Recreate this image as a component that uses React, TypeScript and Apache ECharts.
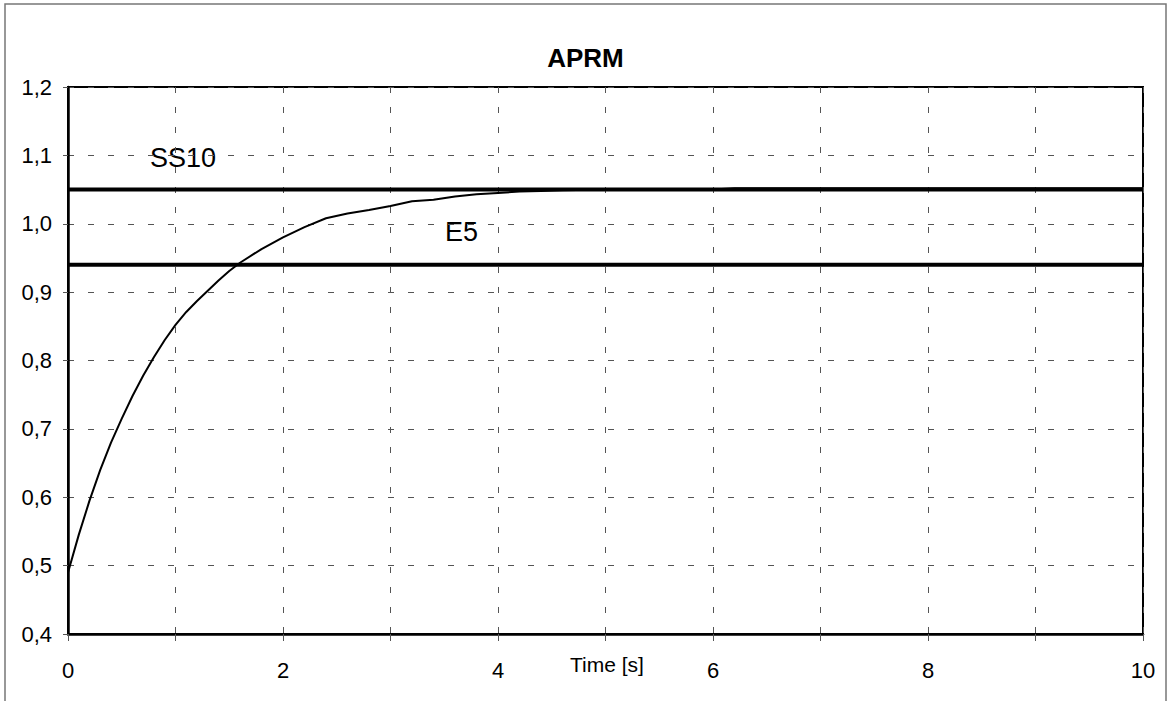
import React, { useEffect, useRef } from "react";
import * as echarts from "echarts";

const timeValues = [0, 0.1, 0.2, 0.3, 0.4, 0.5, 0.6, 0.7, 0.8, 0.9, 1.0, 1.1, 1.2, 1.3, 1.4, 1.5, 1.6, 1.8, 2.0, 2.2, 2.4, 2.6, 2.8, 3.0, 3.2, 3.4, 3.6, 3.8, 4.0, 4.2, 4.4, 4.6, 5.0, 6.0, 6.2, 10];
const aprmValues = [0.49, 0.545, 0.595, 0.64, 0.68, 0.715, 0.748, 0.778, 0.805, 0.83, 0.852, 0.871, 0.887, 0.902, 0.917, 0.931, 0.943, 0.963, 0.98, 0.995, 1.008, 1.015, 1.02, 1.026, 1.033, 1.035, 1.04, 1.043, 1.045, 1.047, 1.048, 1.049, 1.05, 1.05, 1.052, 1.052];
const ss10Level = 1.05;
const e5Level = 0.94;
const xRange = [0, 10];
const yRange = [0.4, 1.2];
const titleText = "APRM";
const xAxisName = "Time [s]";
const lineLabels = ["SS10", "E5"];

const FONT = "'Liberation Sans', Arial, sans-serif";

export default function App() {
  const ref = useRef<HTMLDivElement>(null);
  useEffect(() => {
    document.body.style.margin = "0";
    if (!ref.current) return;
    const chart = echarts.init(ref.current, undefined, { renderer: "svg" });
    const curve = timeValues.map((t, i) => [t, aprmValues[i]]);
    chart.setOption({
      animation: false,
      backgroundColor: "#fff",
      title: {
        text: titleText,
        left: "center",
        top: 40,
        textStyle: { fontFamily: FONT, fontWeight: "bold", fontSize: 26, color: "#000" },
      },
      grid: {
        left: 68,
        right: 28,
        top: 87,
        bottom: 67,
        show: true,
        borderColor: "#000",
        borderWidth: 2,
        backgroundColor: "transparent",
      },
      xAxis: {
        type: "value",
        min: xRange[0],
        max: xRange[1],
        interval: 1,
        axisLine: { show: true, lineStyle: { color: "#000", width: 2.5 } },
        axisTick: { show: true, length: 7, lineStyle: { color: "#555", width: 1 } },
        axisLabel: {
          fontFamily: FONT,
          fontSize: 22,
          color: "#000",
          margin: 25,
          formatter: (v: number) => (Math.round(v) % 2 === 0 ? String(Math.round(v)) : ""),
        },
        splitLine: { show: true, lineStyle: { color: "#555", width: 1, type: [6, 14] } },
      },
      yAxis: {
        type: "value",
        min: yRange[0],
        max: yRange[1],
        interval: 0.1,
        axisLine: { show: true, lineStyle: { color: "#000", width: 2.5 } },
        axisTick: { show: true, length: 5, lineStyle: { color: "#555", width: 1 } },
        axisLabel: {
          fontFamily: FONT,
          fontSize: 22,
          color: "#000",
          margin: 16,
          formatter: (v: number) => v.toFixed(1).replace(".", ","),
        },
        splitLine: { show: true, lineStyle: { color: "#555", width: 1, type: [6, 14] } },
      },
      series: [
        {
          name: "SS10",
          type: "line",
          data: [[xRange[0], ss10Level], [xRange[1], ss10Level]],
          symbol: "none",
          lineStyle: { color: "#000", width: 4 },
        },
        {
          name: "E5",
          type: "line",
          data: [[xRange[0], e5Level], [xRange[1], e5Level]],
          symbol: "none",
          lineStyle: { color: "#000", width: 4 },
        },
        {
          name: "APRM",
          type: "line",
          data: curve,
          symbol: "none",
          lineStyle: { color: "#000", width: 2 },
        },
      ],
      graphic: [
        {
          type: "rect",
          shape: { x: 5, y: 4, width: 1161, height: 720 },
          style: { fill: "none", stroke: "#777", lineWidth: 1.5 },
          silent: true,
        },
        {
          type: "text",
          x: 150,
          y: 158,
          style: { text: lineLabels[0], fontFamily: FONT, fontSize: 27, fill: "#000", verticalAlign: "middle" },
        },
        {
          type: "text",
          x: 445,
          y: 232,
          style: { text: lineLabels[1], fontFamily: FONT, fontSize: 27, fill: "#000", verticalAlign: "middle" },
        },
        {
          type: "text",
          x: 607,
          y: 664,
          style: { text: xAxisName, fontFamily: FONT, fontSize: 21, fill: "#000", align: "center", verticalAlign: "middle" },
        },
      ],
    });
    return () => chart.dispose();
  }, []);
  return <div ref={ref} style={{ width: 1171, height: 701 }} />;
}
